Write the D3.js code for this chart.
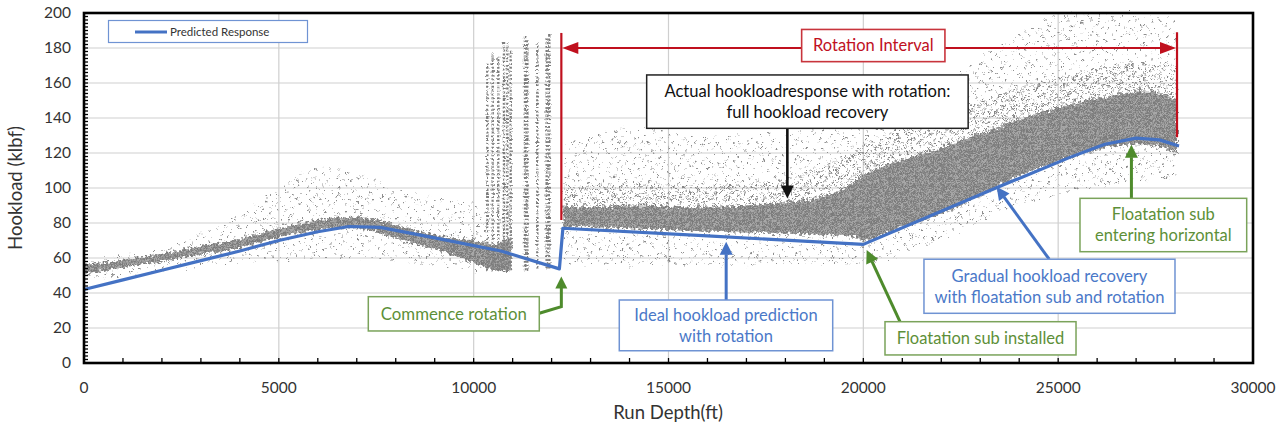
<!DOCTYPE html>
<html><head><meta charset="utf-8">
<script src="https://cdn.jsdelivr.net/npm/d3@7"></script>
<style>body{margin:0;background:#fff;} svg{display:block;font-family:Lato,"Open Sans",sans-serif;}</style>
</head><body><svg id="c" width="1287" height="429"></svg>
<script>
// ---------- data ----------
const xTicks = [0, 5000, 10000, 15000, 20000, 25000, 30000];
const yTicks = [0, 20, 40, 60, 80, 100, 120, 140, 160, 180, 200];

// Predicted response (blue line)
const predDepth = [0, 1000, 2000, 3000, 4000, 5000, 6000, 6800, 7600, 9000, 10700, 12200, 12290, 16000, 20000, 23400, 25300, 26200, 27000, 27600, 28100];
const predLoad  = [42, 47.5, 53, 58.5, 64, 70, 75, 78, 77.5, 71.5, 64, 53.8, 77, 72.6, 67.8, 100, 117.5, 125, 128.5, 127.5, 124];

// Measured hookload: dense core of the scatter (lower / upper edge)
const core1Depth = [0, 1000, 2000, 3000, 4000, 5000, 6000, 6800, 7500, 8300, 9300, 10000, 10600, 10950];
const core1Lo    = [51, 54.5, 58, 62, 65.5, 72, 76, 77.5, 75, 69, 63, 57, 53, 53];
const core1Hi    = [56, 59, 62.5, 67, 71, 77, 81.5, 83.5, 82, 77, 72, 70, 68, 72];
const core2Depth = [12300, 13000, 14000, 16000, 18000, 19000, 19800, 20000, 21000, 22000, 23000, 24000, 25000, 26000, 27000, 27600, 28050];
const core2Lo    = [78, 77.5, 77, 75, 74, 73, 72, 70, 77.5, 85, 96, 107, 115, 122, 125, 124, 120];
const core2Hi    = [90, 89, 90, 89, 92, 95, 104, 108, 116, 123, 131, 139, 146, 151, 155, 154, 150];

// Medium-density readings just above the core in the rotation interval
const mid2Depth = [12300, 14000, 16000, 18000, 19500, 20500, 22000, 24000, 26000, 27000, 28050];
const mid2Lo    = [85, 85, 85, 85, 90, 95, 100, 115, 125, 128, 125];
const mid2Hi    = [100, 103, 101, 106, 118, 130, 142, 158, 168, 172, 170];

// Measured hookload: sparse outliers (lower / upper edge)
const sparse1Depth = [0, 2000, 3000, 4000, 5000, 6000, 7000, 8000, 9000, 10000, 10400];
const sparse1Lo    = [48, 52, 55, 57, 58, 60, 60, 58, 55, 52, 52];
const sparse1Hi    = [58, 66, 74, 85, 100, 112, 108, 100, 95, 92, 90];
const sparse2Depth = [12300, 14000, 16000, 18000, 20000, 21000, 22000, 23000, 24000, 25000, 26000, 27000, 28050];
const sparse2Lo    = [55, 55, 55, 56, 57, 62, 70, 80, 90, 95, 100, 104, 105];
const sparse2Hi    = [125, 135, 130, 132, 140, 150, 160, 175, 188, 200, 200, 200, 198];

// Vertical streaks of readings before rotation starts
const streakDepth = [10350, 10488, 10632, 10778, 10864, 10950, 11317, 11377, 11633, 11874, 11941];
const streakLo    = [53, 53, 53, 52, 52, 53, 53, 53, 54, 54, 54];
const streakHi    = [171, 177, 175, 183.6, 182.7, 179, 187.4, 184.6, 182.7, 186.5, 188.4];

// Rotation interval
const rotStart = 12250, rotEnd = 28050;

// ---------- chart ----------
const W = 1287, H = 429;
const m = {l: 84, r: 34, t: 13, b: 66};
const svg = d3.select("#c");
const x = d3.scaleLinear().domain([0, 30000]).range([m.l, W - m.r]);
const y = d3.scaleLinear().domain([0, 200]).range([H - m.b, m.t]);

// patterns / filter for scatter texture
const defs = svg.append("defs");
const pDense = defs.append("pattern").attr("id", "dense").attr("patternUnits", "userSpaceOnUse").attr("width", 9).attr("height", 7);
pDense.append("rect").attr("width", 9).attr("height", 7).attr("fill", "#a8a8a8");
[[0,0],[3.2,1.1],[6.4,0.4],[1.5,2.6],[4.8,3.3],[7.6,2.5],[0.3,4.7],[3,5.4],[6.1,5.1],[8,4.4],[2.2,3.9],[5.2,1.9]].forEach(([a,b]) =>
  pDense.append("rect").attr("x", a).attr("y", b).attr("width", 1.9).attr("height", 1.7).attr("fill", "#7a7a7a"));
const pMid = defs.append("pattern").attr("id", "mid").attr("patternUnits", "userSpaceOnUse").attr("width", 13).attr("height", 11);
[[0,1],[4,5],[8,2],[11,7],[2,9],[6.5,0],[9.5,9.5],[1,5.5]].forEach(([a,b]) =>
  pMid.append("rect").attr("x", a).attr("y", b).attr("width", 1.7).attr("height", 1.5).attr("fill", "#868686"));
const pSparse = defs.append("pattern").attr("id", "sparse").attr("patternUnits", "userSpaceOnUse").attr("width", 23).attr("height", 19);
[[1,2],[9,0.5],[16,4],[4,9],[12,11],[20,8.5],[7,15.5],[17,16],[0.5,13],[13.5,6]].forEach(([a,b]) =>
  pSparse.append("rect").attr("x", a).attr("y", b).attr("width", 1.6).attr("height", 1.4).attr("fill", "#8e8e8e"));
const f = defs.append("filter").attr("id", "jit").attr("x", "-5%").attr("y", "-20%").attr("width", "110%").attr("height", "140%");
f.append("feTurbulence").attr("type", "fractalNoise").attr("baseFrequency", 0.35).attr("numOctaves", 2).attr("seed", 7).attr("result", "n");
f.append("feDisplacementMap").attr("in", "SourceGraphic").attr("in2", "n").attr("scale", 9).attr("xChannelSelector", "R").attr("yChannelSelector", "G");
const f2 = defs.append("filter").attr("id", "jit2").attr("x", "-20%").attr("y", "-5%").attr("width", "140%").attr("height", "110%");
f2.append("feTurbulence").attr("type", "fractalNoise").attr("baseFrequency", 0.5).attr("numOctaves", 1).attr("seed", 3).attr("result", "n");
f2.append("feDisplacementMap").attr("in", "SourceGraphic").attr("in2", "n").attr("scale", 3.5).attr("xChannelSelector", "R").attr("yChannelSelector", "G");

// grid
const g = svg.append("g");
g.selectAll(".hg").data(yTicks.slice(1, -1)).join("line")
  .attr("x1", m.l).attr("x2", W - m.r).attr("y1", d => y(d)).attr("y2", d => y(d))
  .attr("stroke", "#cfcfcf").attr("stroke-width", 1.2);
g.selectAll(".vg").data(xTicks.slice(1, -1)).join("line")
  .attr("y1", m.t).attr("y2", H - m.b).attr("x1", d => x(d)).attr("x2", d => x(d))
  .attr("stroke", "#cfcfcf").attr("stroke-width", 1.2);

// scatter bands
const scat = svg.append("g").attr("filter", "url(#jit)");
function band(depth, lo, hi, fill) {
  const data = depth.map((d, i) => ({d, lo: lo[i], hi: hi[i]}));
  scat.append("path").datum(data)
    .attr("d", d3.area().x(p => x(p.d)).y0(p => y(p.lo)).y1(p => y(p.hi)).curve(d3.curveCatmullRom))
    .attr("fill", fill);
}
band(sparse1Depth, sparse1Lo, sparse1Hi, "url(#sparse)");
band(sparse2Depth, sparse2Lo, sparse2Hi, "url(#sparse)");
band(mid2Depth, mid2Lo, mid2Hi, "url(#mid)");
band(core1Depth, core1Lo, core1Hi, "url(#dense)");
band(core2Depth, core2Lo, core2Hi, "url(#dense)");

// streaks
svg.append("g").attr("filter", "url(#jit2)").selectAll("line").data(streakDepth).join("line")
  .attr("x1", d => x(d)).attr("x2", d => x(d))
  .attr("y1", (d, i) => y(streakLo[i])).attr("y2", (d, i) => y(streakHi[i]))
  .attr("stroke", "#7d7d7d").attr("stroke-width", 2.4).attr("stroke-dasharray", "2 1.8");

// predicted line
svg.append("path").datum(predDepth.map((d, i) => [d, predLoad[i]]))
  .attr("d", d3.line().x(p => x(p[0])).y(p => y(p[1])).curve(d3.curveLinear))
  .attr("fill", "none").attr("stroke", "#4472c4").attr("stroke-width", 3.2).attr("stroke-linejoin", "round");

// red rotation interval
const RED = "#c0101e";
svg.append("line").attr("x1", x(rotStart)).attr("x2", x(rotStart)).attr("y1", y(81.7)).attr("y2", y(188.6)).attr("stroke", RED).attr("stroke-width", 2.2);
svg.append("line").attr("x1", x(rotEnd)).attr("x2", x(rotEnd)).attr("y1", y(129)).attr("y2", y(189)).attr("stroke", RED).attr("stroke-width", 2.2);

function arrowHead(tx, ty, fx, fy, color, len, wid) {
  const a = Math.atan2(ty - fy, tx - fx);
  const bx = tx - len * Math.cos(a), by = ty - len * Math.sin(a);
  const px = -Math.sin(a) * wid / 2, py = Math.cos(a) * wid / 2;
  svg.append("path").attr("d", `M${tx},${ty}L${bx + px},${by + py}L${bx - px},${by - py}Z`).attr("fill", color);
  return [bx + 0.5 * Math.cos(a), by + 0.5 * Math.sin(a)];
}
function arrow(pts, color, sw, len, wid) {
  const p = pts.map(([a, b]) => [x(a), y(b)]);
  const n = p.length;
  const base = arrowHead(p[n-1][0], p[n-1][1], p[n-2][0], p[n-2][1], color, len, wid);
  const q = p.slice(0, n-1).concat([base]);
  svg.append("path").attr("d", d3.line()(q)).attr("fill", "none").attr("stroke", color).attr("stroke-width", sw).attr("stroke-linejoin", "miter");
}
// double arrow of the rotation interval
{
  const yy = y(180);
  const b1 = arrowHead(x(rotStart) + 1, yy, x(rotStart) + 30, yy, RED, 16, 12);
  const b2 = arrowHead(x(rotEnd) - 1, yy, x(rotEnd) - 30, yy, RED, 16, 12);
  svg.append("line").attr("x1", b1[0]).attr("x2", b2[0]).attr("y1", yy).attr("y2", yy).attr("stroke", RED).attr("stroke-width", 2);
}

function box(x0, x1, y0, y1, lines, txtColor, border, fs, bw) {
  const X0 = x(x0), X1 = x(x1), Y0 = y(y1), Y1 = y(y0);
  svg.append("rect").attr("x", X0).attr("y", Y0).attr("width", X1 - X0).attr("height", Y1 - Y0)
    .attr("fill", "#fff").attr("stroke", border).attr("stroke-width", bw);
  const cy = (Y0 + Y1) / 2, lh = 21;
  lines.forEach((t, i) => {
    svg.append("text").attr("x", (X0 + X1) / 2).attr("y", cy - (lines.length - 1) * lh / 2 + i * lh + fs * 0.36)
      .attr("text-anchor", "middle").attr("font-size", fs).attr("fill", txtColor).text(t);
  });
}
const GREEN_T = "#5d8f38", GREEN_B = "#7aa35a", GREEN_A = "#4e8b2c";
const BLUE_T = "#4a78c8", BLUE_B = "#6f93d3", BLUE_A = "#4472c4";

// arrows
arrow([[18050, 134.1], [18050, 94]], "#111", 2.6, 13, 13);
arrow([[11684, 28.4], [rotStart, 32.2], [rotStart, 49.5]], GREEN_A, 3, 12, 12);
arrow([[16480, 36], [16480, 69.3]], BLUE_A, 3, 13, 13);
arrow([[20940, 23.6], [20086, 64.6]], GREEN_A, 3, 13, 13);
arrow([[24770, 59.3], [23420, 100.7]], BLUE_A, 3, 13, 13);
arrow([[26880, 94.1], [26880, 124.7]], GREEN_A, 3, 13, 13);

// boxes
box(18417, 22094, 172.2, 190.6, ["Rotation Interval"], RED, "#c8343c", 16.5, 1.6);
box(14440, 22690, 134.1, 164.6, ["Actual hookloadresponse with rotation:", "full hookload recovery"], "#111", "#222", 16.6, 1.5);
box(7296, 11684, 18.3, 37.9, ["Commence rotation"], GREEN_T, GREEN_B, 16.8, 1.5);
box(13737, 19214, 7, 36, ["Ideal hookload prediction", "with rotation"], BLUE_T, BLUE_B, 16.5, 1.5);
box(20556, 25458, 4.6, 23.6, ["Floatation sub installed"], GREEN_T, GREEN_B, 16.5, 1.5);
box(21556, 27998, 28.4, 59.3, ["Gradual hookload recovery", "with floatation sub and rotation"], BLUE_T, BLUE_B, 16.6, 1.5);
box(25560, 29838, 63.6, 94.1, ["Floatation sub", "entering horizontal"], GREEN_T, GREEN_B, 16.5, 1.5);

// axes ticks
const ax = svg.append("g");
ax.selectAll(".ym").data(d3.range(0, 201, 2)).join("line")
  .attr("x1", m.l).attr("x2", m.l + 4).attr("y1", d => y(d)).attr("y2", d => y(d)).attr("stroke", "#000").attr("stroke-width", 1.3);
ax.selectAll(".xm").data(d3.range(0, 30001, 1000)).join("line")
  .attr("y1", H - m.b).attr("y2", H - m.b - 5).attr("x1", d => x(d)).attr("x2", d => x(d)).attr("stroke", "#000").attr("stroke-width", 1.3);
ax.selectAll(".yl").data(yTicks).join("text")
  .attr("x", m.l - 13).attr("y", d => y(d) + 5).attr("text-anchor", "end").attr("font-size", 15.5).attr("fill", "#333").text(d => d);
ax.selectAll(".xl").data(xTicks).join("text")
  .attr("x", d => x(d)).attr("y", H - m.b + 30).attr("text-anchor", "middle").attr("font-size", 15.5).attr("fill", "#333").text(d => d);

// frame
svg.append("rect").attr("x", m.l).attr("y", m.t).attr("width", W - m.r - m.l).attr("height", H - m.b - m.t)
  .attr("fill", "none").attr("stroke", "#000").attr("stroke-width", 2.6);

// axis titles
svg.append("text").attr("x", 668).attr("y", 419).attr("text-anchor", "middle").attr("font-size", 18.5).attr("fill", "#333").text("Run Depth(ft)");
svg.append("text").attr("transform", `translate(22,${(m.t + H - m.b) / 2}) rotate(-90)`).attr("text-anchor", "middle").attr("font-size", 18.5).attr("fill", "#333").text("Hookload (klbf)");

// legend
const lg = svg.append("g");
lg.append("rect").attr("x", 108.5).attr("y", 20.5).attr("width", 199).attr("height", 22).attr("fill", "#fff").attr("stroke", "#6f93d3").attr("stroke-width", 1.2);
lg.append("line").attr("x1", 135).attr("x2", 167).attr("y1", 32).attr("y2", 32).attr("stroke", "#4472c4").attr("stroke-width", 3);
lg.append("text").attr("x", 170).attr("y", 36).attr("font-size", 11.5).attr("fill", "#333").text("Predicted Response");
</script></body></html>
